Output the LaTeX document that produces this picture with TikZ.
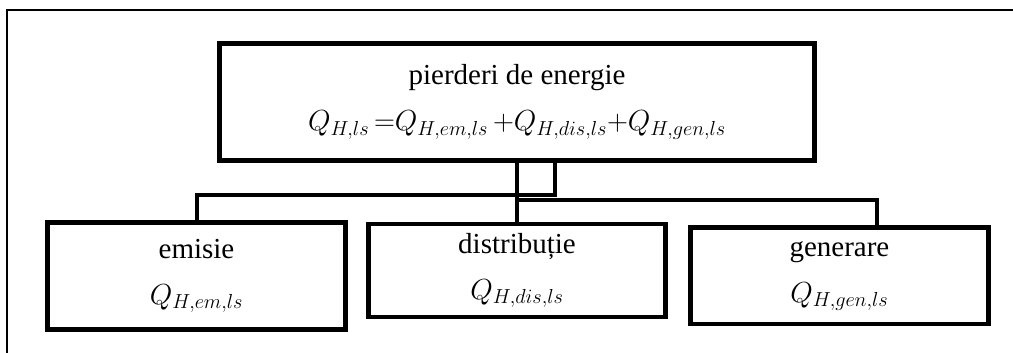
\RequirePackage{fix-cm}
\documentclass[tikz,border=0pt]{standalone}
\usepackage{fontspec}
\setmainfont{Liberation Serif}
\usetikzlibrary{positioning,calc}

\begin{document}
\begin{tikzpicture}[x=1pt,y=-1pt,
  box/.style={draw, line width=4.5pt, align=center, inner sep=0pt,
    font=\fontsize{29}{46}\selectfont},
  link/.style={line width=4pt}]
  \useasboundingbox (0,0) rectangle (1013,353);

  % page frame
  \draw[line width=2pt] (7,353) -- (7,10) -- (1013,10);

  % total losses
  \node[box, minimum width=595pt, minimum height=117pt] (loss) at (517,102)
    {pierderi de energie\\
     $Q_{H,ls}\,{=}Q_{H,em,ls}\,{+}Q_{H,dis,ls}{+}Q_{H,gen,ls}$};

  % the three parts
  \node[box, minimum width=298pt, minimum height=107pt] (emis) at (196.5,276)
    {emisie\\ $Q_{H,em,ls}$};
  \node[box, minimum width=297pt, minimum height=93pt] (dist) at (517,270.5)
    {distribuție\\ $Q_{H,dis,ls}$};
  \node[box, minimum width=298pt, minimum height=96.5pt] (gen) at (839.4,275.8)
    {generare\\ $Q_{H,gen,ls}$};

  % connectors
  \draw[link] ([xshift=37.5pt]loss.south) -- ++(0,32) -| (emis.north);
  \draw[link] (loss.south) -- (dist.north);
  \draw[link] (loss.south) ++(0,37) -| ([xshift=37.6pt]gen.north);
\end{tikzpicture}
\end{document}
